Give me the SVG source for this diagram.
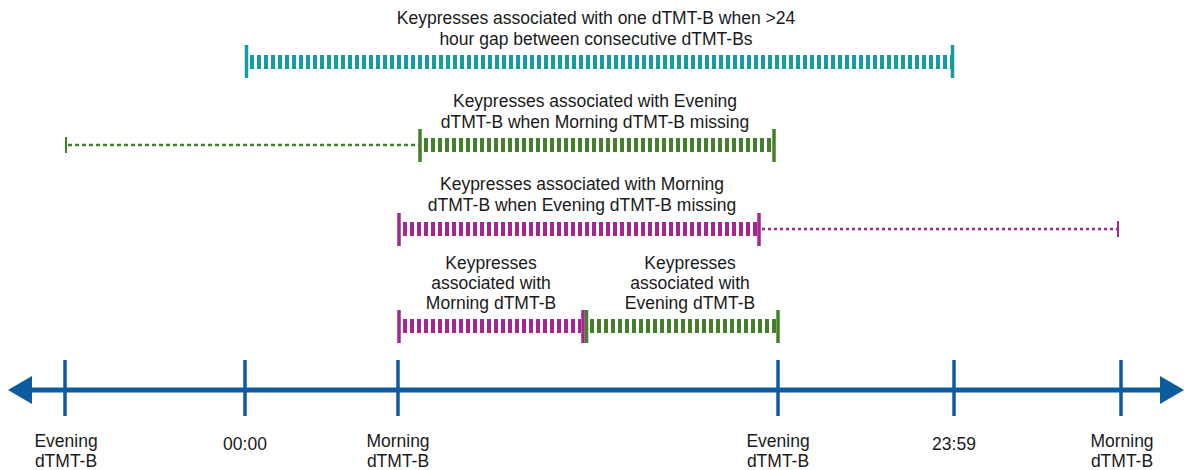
<svg xmlns="http://www.w3.org/2000/svg" width="1184" height="470" viewBox="0 0 1184 470">
<style>
text{font-family:"Liberation Sans",Arial,sans-serif;font-size:17.5px;fill:#1a1a1a;text-anchor:middle}
.axis{stroke:#0c5b9e;stroke-width:5;fill:none}
.tick{stroke:#0c5b9e;stroke-width:3.5}
.teal{stroke:#159c9c}
.green{stroke:#447f2b}
.mag{stroke:#a5268f}
.bar{stroke-width:14;stroke-dasharray:4 3;fill:none}
.cap{stroke-width:3.5}
.dot{stroke-width:2.5;stroke-dasharray:4 3;fill:none}
.thin{stroke-width:2}
</style>
<g id="connectors">
<line class="axis" x1="26" y1="390" x2="1166" y2="390"/>
<polygon points="8,390 32,376 32,404" fill="#0c5b9e"/>
<polygon points="1184,390 1160,376 1160,404" fill="#0c5b9e"/>
</g>
<g id="ticks">
<line class="tick" x1="65" y1="360" x2="65" y2="416"/>
<line class="tick" x1="245" y1="360" x2="245" y2="416"/>
<line class="tick" x1="398" y1="360" x2="398" y2="416"/>
<line class="tick" x1="778" y1="360" x2="778" y2="416"/>
<line class="tick" x1="954" y1="360" x2="954" y2="416"/>
<line class="tick" x1="1121" y1="360" x2="1121" y2="416"/>
</g>
<g id="axis-labels">
<text x="66" y="447">Evening</text><text x="66" y="467">dTMT-B</text>
<text x="245" y="450">00:00</text>
<text x="398" y="447">Morning</text><text x="398" y="467">dTMT-B</text>
<text x="778" y="447">Evening</text><text x="778" y="467">dTMT-B</text>
<text x="954" y="450">23:59</text>
<text x="1122" y="447">Morning</text><text x="1122" y="467">dTMT-B</text>
</g>
<g id="row1">
<text x="596" y="24">Keypresses associated with one dTMT-B when &gt;24</text>
<text x="596" y="45">hour gap between consecutive dTMT-Bs</text>
<line class="teal bar" x1="250" y1="62" x2="951" y2="62"/>
<line class="teal cap" x1="246.5" y1="45" x2="246.5" y2="78"/>
<line class="teal cap" x1="952.5" y1="45" x2="952.5" y2="78"/>
</g>
<g id="row2">
<text x="595" y="107">Keypresses associated with Evening</text>
<text x="595" y="128">dTMT-B when Morning dTMT-B missing</text>
<line class="green dot" x1="68" y1="145" x2="419" y2="145"/>
<line class="green thin" x1="66" y1="137" x2="66" y2="153"/>
<line class="green bar" x1="424" y1="145" x2="772" y2="145"/>
<line class="green cap" x1="420" y1="129" x2="420" y2="162"/>
<line class="green cap" x1="774" y1="129" x2="774" y2="162"/>
</g>
<g id="row3">
<text x="582" y="190">Keypresses associated with Morning</text>
<text x="582" y="211">dTMT-B when Evening dTMT-B missing</text>
<line class="mag bar" x1="403" y1="229" x2="757" y2="229"/>
<line class="mag cap" x1="399" y1="213" x2="399" y2="246"/>
<line class="mag cap" x1="759" y1="213" x2="759" y2="246"/>
<line class="mag dot" x1="762" y1="229" x2="1117" y2="229" style="stroke-dasharray:3 3"/>
<line class="mag thin" x1="1118" y1="221" x2="1118" y2="237"/>
</g>
<g id="row4-morning">
<text x="491" y="269">Keypresses</text>
<text x="491" y="289">associated with</text>
<text x="491" y="309">Morning dTMT-B</text>
<line class="mag bar" x1="403" y1="326" x2="581" y2="326"/>
<line class="mag cap" x1="399" y1="310" x2="399" y2="343"/>
<line class="mag cap" x1="583" y1="310" x2="583" y2="343"/>
</g>
<g id="row4-evening">
<text x="690" y="269">Keypresses</text>
<text x="690" y="289">associated with</text>
<text x="690" y="309">Evening dTMT-B</text>
<line class="green bar" x1="590" y1="326" x2="776" y2="326"/>
<line class="green cap" x1="586.5" y1="310" x2="586.5" y2="343"/>
<line class="green cap" x1="778" y1="310" x2="778" y2="343"/>
</g>
</svg>
